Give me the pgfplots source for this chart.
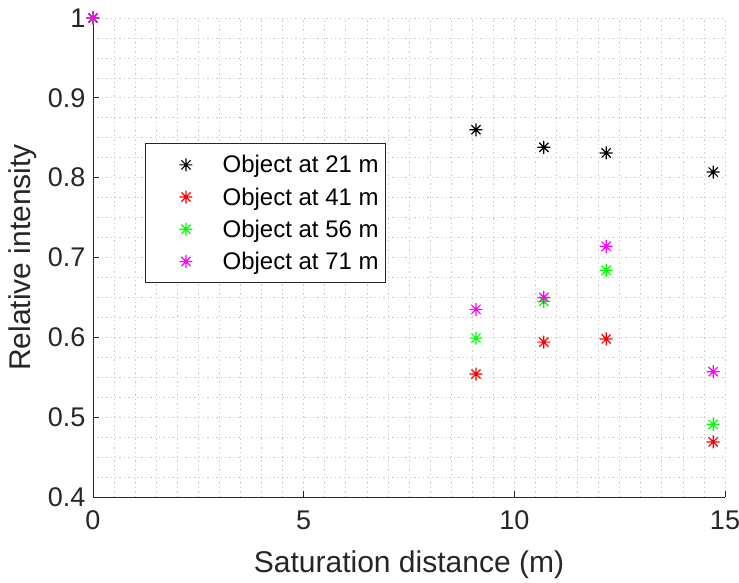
\documentclass[border=0pt]{standalone}
\usepackage{fontspec}
\setmainfont{Liberation Sans}
\usepackage{pgfplots}
\pgfplotsset{compat=1.18}

% MATLAB style '*' marker: a plus and a cross
\pgfdeclareplotmark{mast}{%
  \pgfpathmoveto{\pgfqpoint{-\pgfplotmarksize}{0pt}}\pgfpathlineto{\pgfqpoint{\pgfplotmarksize}{0pt}}%
  \pgfpathmoveto{\pgfqpoint{0pt}{-\pgfplotmarksize}}\pgfpathlineto{\pgfqpoint{0pt}{\pgfplotmarksize}}%
  \pgfpathmoveto{\pgfqpoint{-.7071\pgfplotmarksize}{-.7071\pgfplotmarksize}}\pgfpathlineto{\pgfqpoint{.7071\pgfplotmarksize}{.7071\pgfplotmarksize}}%
  \pgfpathmoveto{\pgfqpoint{-.7071\pgfplotmarksize}{.7071\pgfplotmarksize}}\pgfpathlineto{\pgfqpoint{.7071\pgfplotmarksize}{-.7071\pgfplotmarksize}}%
  \pgfusepathqstroke}

\definecolor{axgray}{gray}{0.15}
\definecolor{mgreen}{rgb}{0,1,0}
\definecolor{mmag}{rgb}{1,0,1}
\definecolor{mred}{rgb}{1,0,0}

\begin{document}
\begin{tikzpicture}
\begin{axis}[
  scale only axis,width=632pt,height=479pt,
  xmin=0,xmax=15,ymin=0.4,ymax=1,
  xtick={0,5,10,15},ytick={0.4,0.5,0.6,0.7,0.8,0.9,1},
  minor x tick num=9,minor y tick num=3,
  axis lines*=left,
  axis line style={axgray,line width=0.8pt,-},
  tick align=inside,major tick length=6pt,minor tick length=0pt,
  tick style={axgray,line width=0.8pt},
  grid=both,
  major grid style={gray!40,line width=0.7pt,dash pattern=on 1.4pt off 3pt},
  minor grid style={gray!40,line width=0.7pt,dash pattern=on 1.4pt off 3pt},
  clip=false,
  /pgf/number format/assume math mode=true,
  /pgf/number format/fixed,
  tick label style={font=\fontsize{27}{31}\selectfont,text=axgray},
  yticklabel style={xshift=-4pt},
  xticklabel style={yshift=-10pt},
  xlabel={Saturation distance (m)},
  ylabel={Relative intensity},
  label style={font=\fontsize{30}{34}\selectfont,text=axgray},
  xlabel style={at={(axis description cs:0.5,0)},anchor=center,yshift=-68pt},
  ylabel style={at={(axis description cs:0,0.5)},anchor=center,yshift=70pt},
  every axis plot/.append style={only marks,mark=mast,mark size=6.5pt,line width=1.2pt},
  legend image code/.code={\path (-37pt,0pt) (32pt,0pt); \draw[#1,mark=mast] plot coordinates {(0pt,0pt)};},
  legend style={at={(axis cs:1.234,0.8434)},anchor=north west,
    draw=axgray,line width=0.8pt,fill=white,
    font=\fontsize{24}{28}\selectfont,
    inner xsep=3pt,inner ysep=10pt,row sep=9.3pt,
    nodes={inner xsep=4pt}},
  legend cell align=left,
]
\addplot[black] coordinates {(0,1) (9.09,0.860) (10.70,0.838) (12.18,0.831) (14.72,0.807)};
\addplot[mred] coordinates {(0,1) (9.09,0.554) (10.70,0.594) (12.18,0.598) (14.72,0.469)};
\addplot[mgreen] coordinates {(0,1) (9.09,0.599) (10.70,0.645) (12.18,0.684) (14.72,0.491)};
\addplot[mmag] coordinates {(0,1) (9.09,0.635) (10.70,0.650) (12.18,0.714) (14.72,0.557)};
\legend{Object at 21 m,Object at 41 m,Object at 56 m,Object at 71 m}
\coordinate (O) at (rel axis cs:0,0);
\end{axis}
\pgfresetboundingbox
\path ([shift={(-93pt,-86pt)}]O) rectangle ++(739pt,583pt);
\end{tikzpicture}
\end{document}
